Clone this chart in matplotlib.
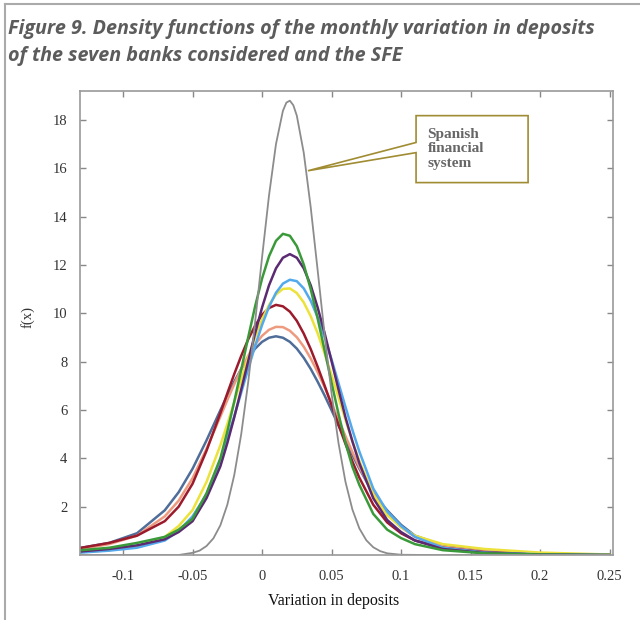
import matplotlib.pyplot as plt
from matplotlib.patches import Polygon
from matplotlib.lines import Line2D

# Data
x_banks = [-0.13, -0.11, -0.09, -0.07, -0.06, -0.05, -0.04, -0.03, -0.025, -0.02,
           -0.015, -0.01, -0.005, 0.0, 0.005, 0.01, 0.015, 0.02, 0.025, 0.03, 0.035,
           0.04, 0.045, 0.05, 0.055, 0.06, 0.065, 0.07, 0.08, 0.09, 0.1, 0.11, 0.13,
           0.16, 0.2, 0.25]

green = [0.2, 0.3, 0.5, 0.75, 1.05, 1.5, 2.55, 4.0, 5.11, 6.35, 7.67, 9.0, 10.29,
         11.44, 12.36, 13.0, 13.29, 13.21, 12.78, 12.02, 11.0, 9.79, 8.47, 7.13,
         5.84, 4.65, 3.65, 2.9, 1.7, 1.05, 0.7, 0.45, 0.2, 0.07, 0.02, 0.0]
purple = [0.15, 0.25, 0.4, 0.65, 0.95, 1.4, 2.35, 3.67, 4.63, 5.7, 6.85, 8.02, 9.18,
          10.24, 11.16, 11.86, 12.3, 12.45, 12.3, 11.86, 11.16, 10.24, 9.18, 8.02,
          6.85, 5.7, 4.7, 3.8, 2.35, 1.45, 0.95, 0.6, 0.25, 0.08, 0.02, 0.0]
light_blue = [0.1, 0.18, 0.3, 0.6, 1.0, 1.6, 2.5, 3.94, 4.81, 5.74, 6.72, 7.7, 8.65,
              9.52, 10.27, 10.85, 11.23, 11.39, 11.33, 11.03, 10.52, 9.84, 9.01, 8.09,
              7.11, 6.13, 5.17, 4.28, 2.75, 1.8, 1.2, 0.75, 0.3, 0.1, 0.03, 0.0]
yellow = [0.12, 0.2, 0.35, 0.75, 1.2, 1.86, 3.02, 4.54, 5.42, 6.33, 7.26, 8.17, 9.01,
          9.75, 10.35, 10.78, 11.01, 11.03, 10.84, 10.45, 9.88, 9.17, 8.34, 7.45,
          6.52, 5.59, 4.71, 3.89, 2.51, 1.65, 1.15, 0.8, 0.45, 0.25, 0.1, 0.02]
dark_red = [0.3, 0.5, 0.8, 1.4, 2.0, 2.95, 4.31, 5.87, 6.69, 7.49, 8.24, 8.92, 9.49,
            9.94, 10.22, 10.35, 10.29, 10.07, 9.69, 9.16, 8.52, 7.79, 7.01, 6.2,
            5.39, 4.6, 3.87, 3.2, 2.08, 1.35, 0.9, 0.6, 0.3, 0.12, 0.04, 0.0]
salmon = [0.25, 0.45, 0.8, 1.6, 2.25, 3.18, 4.39, 5.73, 6.41, 7.07, 7.69, 8.24, 8.71,
          9.07, 9.32, 9.44, 9.43, 9.28, 9.01, 8.62, 8.13, 7.57, 6.94, 6.28,
          5.6, 4.92, 4.26, 3.64, 2.55, 1.69, 1.15, 0.75, 0.35, 0.15, 0.05, 0.0]
slate_blue = [0.3, 0.5, 0.9, 1.85, 2.6, 3.57, 4.74, 5.99, 6.6, 7.17, 7.7, 8.16, 8.54,
              8.82, 8.99, 9.05, 8.99, 8.82, 8.54, 8.16, 7.7, 7.17, 6.6, 5.99,
              5.36, 4.74, 4.14, 3.57, 2.55, 1.85, 1.25, 0.8, 0.4, 0.15, 0.04, 0.0]

x_sfe = [-0.13, -0.06, -0.05, -0.045, -0.04, -0.035, -0.03, -0.025, -0.02, -0.015,
         -0.01, -0.005, 0.0, 0.005, 0.01, 0.015, 0.0175, 0.02, 0.0225, 0.025, 0.03,
         0.035, 0.04, 0.045, 0.05, 0.055, 0.06, 0.065, 0.07, 0.075, 0.08, 0.085,
         0.09, 0.1, 0.12, 0.25]
sfe = [0.0, 0.0, 0.09, 0.18, 0.37, 0.69, 1.23, 2.08, 3.31, 5.0, 7.14, 9.64, 12.32,
       14.88, 17.0, 18.38, 18.72, 18.8, 18.61, 18.18, 16.64, 14.39, 11.78, 9.12,
       6.68, 4.63, 3.03, 1.88, 1.1, 0.61, 0.32, 0.16, 0.07, 0.01, 0.0, 0.0]

banks = [slate_blue, salmon, dark_red, yellow, light_blue, purple, green]
bank_colors = ["#4f6d99", "#ee9a7e", "#9b1b2c", "#ece23a", "#52a9ec", "#5b2a72", "#3a9a3a"]

x_ticks = [-0.1, -0.05, 0, 0.05, 0.1, 0.15, 0.2, 0.25]
x_tick_labels = ["-0.1", "-0.05", "0", "0.05", "0.1", "0.15", "0.2", "0.25"]
y_ticks = [2, 4, 6, 8, 10, 12, 14, 16, 18]

TITLE_1 = "Figure 9. Density functions of the monthly variation in deposits"
TITLE_2 = "of the seven banks considered and the SFE"
CALLOUT = "Spanish\nfinancial\nsystem"

W, H = 640, 620
fig = plt.figure(figsize=(W / 100, H / 100), dpi=100)
ax = fig.add_axes([80 / W, 1 - 555 / H, 533 / W, 464 / H])

for y, c in zip(banks, bank_colors):
    ax.plot(x_banks, y, color=c, lw=1.8, solid_joinstyle="round")
ax.plot(x_sfe, sfe, color="#8c8c8c", lw=1.3, solid_joinstyle="round")

ax.set_xlim(-0.131, 0.2525)
ax.set_ylim(0, 19.2)
ax.set_xticks(x_ticks)
ax.set_xticklabels(x_tick_labels)
ax.set_yticks(y_ticks)
ax.tick_params(direction="in", length=4, width=1, color="#888888",
               top=True, right=True, labelsize=10.5, labelcolor="#333333")
ax.tick_params(axis="x", pad=11)
ax.tick_params(axis="y", pad=9)
for lab in ax.get_xticklabels() + ax.get_yticklabels():
    lab.set_family("Liberation Serif")
for sp in ax.spines.values():
    sp.set_color("#9a9a9a")
    sp.set_linewidth(1.2)

# callout box with pointer to the SFE curve
callout = Polygon([(0.1108, 18.18), (0.1914, 18.18), (0.1914, 15.41), (0.1108, 15.41),
                   (0.1108, 16.65), (0.033, 15.9), (0.1108, 17.07)],
                  closed=True, facecolor="white", edgecolor="#a08c32", lw=1.2,
                  clip_on=False, zorder=5)
ax.add_patch(callout)
ax.text(0.119, 16.8, CALLOUT, family="Liberation Serif", weight="bold", fontsize=11,
        color="#666666", va="center", ha="left", linespacing=1.15, zorder=6)

fig.text(28 / W, 1 - 317 / H, "f(x)", rotation=90, family="Liberation Serif",
         fontsize=10.5, color="#333333", ha="center", va="center")
fig.text(334 / W, 1 - 601 / H, "Variation in deposits", family="Liberation Serif",
         fontsize=11.5, color="#111111", ha="center", va="center")

fig.text(8 / W, 1 - 34 / H, TITLE_1, family="Open Sans", style="italic", weight="bold",
         fontsize=14.2, color="#5c5c5c", va="baseline")
fig.text(8 / W, 1 - 61 / H, TITLE_2, family="Open Sans", style="italic", weight="bold",
         fontsize=14.2, color="#5c5c5c", va="baseline")

# outer frame (top and left edges)
fig.add_artist(Line2D([5 / W, 1], [1 - 3.5 / H, 1 - 3.5 / H], color="#aaaaaa", lw=1.5,
                      transform=fig.transFigure))
fig.add_artist(Line2D([5 / W, 5 / W], [0, 1 - 3.5 / H], color="#aaaaaa", lw=1.5,
                      transform=fig.transFigure))

fig.savefig("out.png", dpi=100)
